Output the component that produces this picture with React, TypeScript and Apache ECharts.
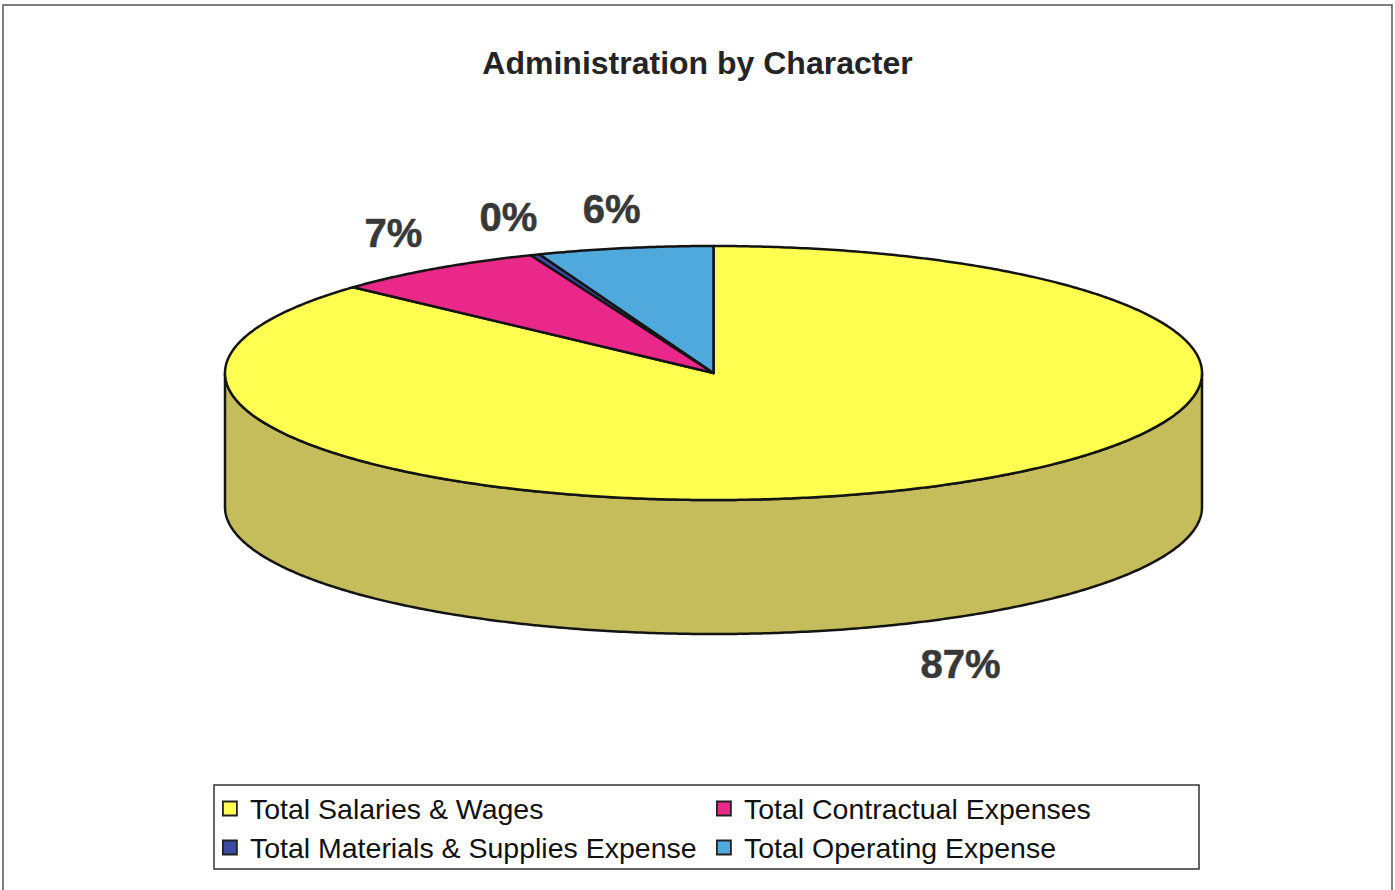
import React, { useEffect, useRef } from "react";
import * as echarts from "echarts";

const TITLE = "Administration by Character";
const CATEGORIES = [
  "Total Salaries & Wages",
  "Total Contractual Expenses",
  "Total Materials & Supplies Expense",
  "Total Operating Expense",
];
const VALUES = [86.8, 7.1, 0.3, 5.8];

const TOP_COLORS = ["#ffff52", "#e9288a", "#3c4ca6", "#4fa9dc"];
const SIDE_COLORS = ["#c5bc5c", "#a81e64", "#2a3678", "#3a7ca2"];

const FONT = '"Liberation Sans", Arial, Helvetica, sans-serif';

// layout of the 3D pie (in px)
const CX = 713.5;
const CY = 373;
const RX = 488.5;
const RY = 127;
const DEPTH = 134;

const TOTAL = VALUES.reduce((a, b) => a + b, 0);
const startAngle = (i: number) => {
  let cum = 0;
  for (let k = 0; k < i; k++) cum += VALUES[k];
  return 90 - (cum / TOTAL) * 360;
};
const pt = (deg: number, dy = 0) => {
  const r = (deg * Math.PI) / 180;
  return [CX + RX * Math.cos(r), CY - RY * Math.sin(r) + dy];
};
const arc = (a: number, b: number, dy = 0) => {
  const n = Math.max(2, Math.ceil(Math.abs(b - a) / 0.5));
  const out: number[][] = [];
  for (let j = 0; j <= n; j++) out.push(pt(a + ((b - a) * j) / n, dy));
  return out;
};

const STROKE = "#141414";
const STROKE_W = 2.5;

export default function App() {
  const ref = useRef<HTMLDivElement>(null);
  useEffect(() => {
    document.body.style.margin = "0";
    const chart = echarts.init(ref.current!, undefined, { renderer: "svg" });

    const sideSeries: any = {
      type: "custom",
      name: "__sides",
      coordinateSystem: "none",
      silent: true,
      data: VALUES,
      renderItem: (params: any) => {
        const i = params.dataIndex;
        const hi = startAngle(i);
        const lo = startAngle(i + 1);
        const children: any[] = [];
        for (const k of [-1, 0, 1]) {
          const s = Math.max(lo, -180 + 360 * k);
          const e = Math.min(hi, 360 * k);
          if (e > s) {
            const pts = [...arc(s, e, 0), ...arc(e, s, DEPTH)];
            children.push({
              type: "polygon",
              shape: { points: pts },
              style: {
                fill: SIDE_COLORS[i],
                stroke: STROKE,
                lineWidth: STROKE_W,
                lineJoin: "round",
              },
            });
          }
        }
        return { type: "group", children };
      },
    };

    const topSeries: any[] = CATEGORIES.map((name, i) => ({
      type: "custom",
      name,
      coordinateSystem: "none",
      silent: true,
      itemStyle: { color: TOP_COLORS[i] },
      data: [VALUES[i]],
      renderItem: () => {
        const a0 = startAngle(i);
        const a1 = startAngle(i + 1);
        const pts = [[CX, CY], ...arc(a0, a1, 0)];
        const mid = (a0 + a1) / 2;
        const r = (mid * Math.PI) / 180;
        const upper = Math.sin(r) >= 0;
        const fx = upper ? 1.15 : 1.255;
        const fy = upper ? 1.15 : 1.18;
        const lx = CX + fx * RX * Math.cos(r);
        const ly = CY - fy * RY * Math.sin(r) + (upper ? 0 : DEPTH);
        const pct = Math.round((VALUES[i] / TOTAL) * 100) + "%";
        return {
          type: "group",
          children: [
            {
              type: "polygon",
              shape: { points: pts },
              style: {
                fill: TOP_COLORS[i],
                stroke: STROKE,
                lineWidth: STROKE_W,
                lineJoin: "round",
              },
            },
            {
              type: "text",
              x: lx,
              y: ly,
              style: {
                text: pct,
                fill: "#383838",
                fontSize: 40,
                fontWeight: "bold",
                fontFamily: FONT,
                align: "center",
                verticalAlign: upper ? "bottom" : "top",
                stroke: "#555",
                lineWidth: 0.6,
              },
            },
          ],
        };
      },
    }));

    const legendCommon = {
      orient: "vertical",
      top: 794,
      padding: 0,
      itemWidth: 14,
      itemHeight: 14,
      itemGap: 10,
      icon: "rect",
      selectedMode: false,
      itemStyle: { borderColor: "#222", borderWidth: 1.8 },
      textStyle: {
        fontSize: 28.5,
        lineHeight: 28,
        fontFamily: FONT,
        color: "#111",
        padding: [0, 0, 0, 8],
      },
    };

    chart.setOption({
      animation: false,
      backgroundColor: "#ffffff",
      title: {
        text: TITLE,
        left: "center",
        top: 42,
        textStyle: {
          fontSize: 32,
          fontWeight: "bold",
          fontFamily: FONT,
          color: "#242424",
        },
      },
      legend: [
        {
          ...legendCommon,
          left: 222,
          data: [0, 2].map((i) => ({
            name: CATEGORIES[i],
            itemStyle: { color: TOP_COLORS[i] },
          })),
        },
        {
          ...legendCommon,
          left: 716,
          data: [1, 3].map((i) => ({
            name: CATEGORIES[i],
            itemStyle: { color: TOP_COLORS[i] },
          })),
        },
      ],
      graphic: [
        {
          type: "rect",
          silent: true,
          shape: { x: 3, y: 5, width: 1389, height: 895 },
          style: { fill: "none", stroke: "#555", lineWidth: 1.5 },
        },
        {
          type: "rect",
          silent: true,
          shape: { x: 214, y: 785, width: 985, height: 84 },
          style: { fill: "none", stroke: "#333", lineWidth: 1.5 },
        },
      ],
      series: [sideSeries, ...topSeries],
    });
    return () => chart.dispose();
  }, []);
  return (
    <div
      ref={ref}
      style={{ position: "absolute", left: 0, top: 0, width: 1395, height: 890 }}
    />
  );
}
